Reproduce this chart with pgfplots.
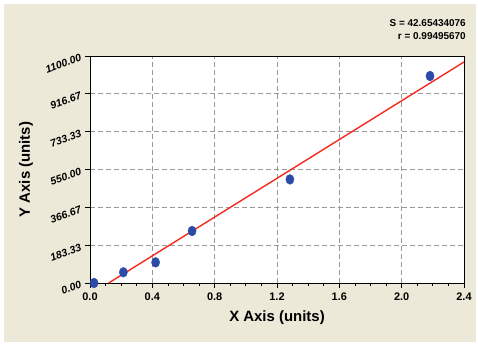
\documentclass[border=0pt]{standalone}
\usepackage{fontspec}
\setmainfont{Liberation Sans}
\usepackage{pgfplots}
\pgfplotsset{compat=1.18}
\definecolor{bgbeige}{HTML}{ECE9D8}
\definecolor{ptblue}{HTML}{2B4BA6}
\definecolor{fitred}{HTML}{F52A1E}
\begin{document}
\begin{tikzpicture}
\fill[white] (-90bp,-63bp) rectangle (388bp,283bp);
\fill[bgbeige] (-86bp,-59bp) rectangle (386bp,279bp);
\begin{axis}[
  at={(0,0)}, anchor=south west,
  scale only axis, width=374bp, height=227bp,
  xmin=0, xmax=2.4, ymin=0, ymax=1100,
  axis background/.style={fill=white},
  xtick={0,0.4,...,2.41},
  xticklabels={0.0,0.4,0.8,1.2,1.6,2.0,2.4},
  ytick={0,183.333,366.667,550,733.333,916.667,1100},
  yticklabels={0.00,183.33,366.67,550.00,733.33,916.67,1100.00},
  minor x tick num=3, minor y tick num=3,
  tick align=outside, major tick length=5bp, minor tick length=3bp,
  tick style={black, line width=0.8pt},
  axis line style={black, line width=0.8pt},
  xtick pos=bottom, ytick pos=left,
  grid=major,
  major grid style={black!40, dash pattern=on 5bp off 3bp, line width=0.7pt},
  xticklabel style={font=\fontsize{11}{12}\selectfont\bfseries, yshift=-1bp},
  yticklabel style={font=\fontsize{10.5}{12}\selectfont\bfseries\itshape, rotate=20, anchor=east, xshift=-1bp},
  xlabel={X Axis (units)},
  ylabel={Y Axis (units)},
  xlabel style={font=\fontsize{15}{16}\selectfont\bfseries, yshift=-4bp},
  ylabel style={font=\fontsize{15}{16}\selectfont\bfseries, yshift=4bp},
  clip=false,
]
\addplot[fitred, line width=1.4pt, no marks] coordinates {(0.12,0) (2.4,1071)};
\addplot[only marks, mark=*, mark size=4.1bp, color=ptblue, mark options={fill=ptblue, draw=ptblue, yscale=1.2}]
coordinates {(0.026,0) (0.214,52) (0.421,100) (0.655,252) (1.283,502) (2.182,1003)};
\end{axis}
\node[anchor=base east, font=\fontsize{10}{12}\selectfont\bfseries, inner sep=0] at (376bp,256bp) {S = 42.65434076};
\node[anchor=base east, font=\fontsize{10}{12}\selectfont\bfseries, inner sep=0] at (376bp,243bp) {r = 0.99495670};
\end{tikzpicture}
\end{document}
